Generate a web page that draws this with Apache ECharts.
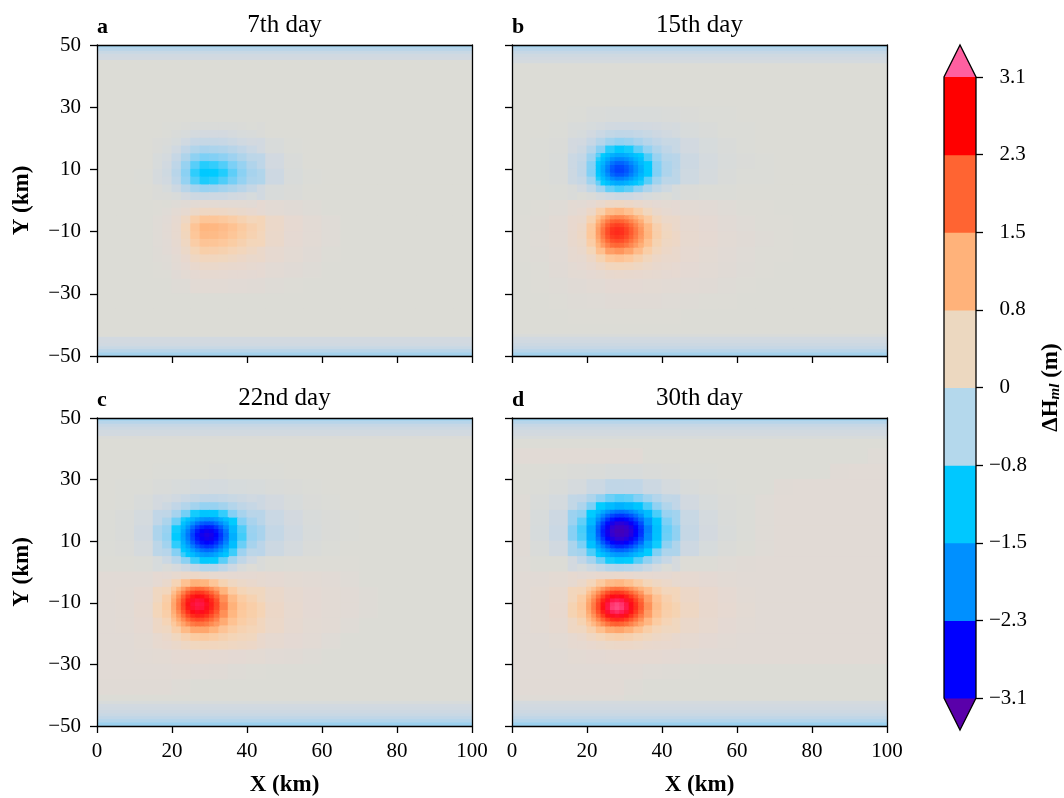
<!DOCTYPE html>
<html>
<head>
<meta charset="utf-8">
<script src="https://cdn.jsdelivr.net/npm/echarts@6/dist/echarts.min.js"></script>
<style>
html,body{margin:0;padding:0;background:#ffffff;}
#chart{width:1064px;height:798px;}
</style>
</head>
<body>
<div id="chart"></div>
<script>
// ---- grid coordinates of the sampled field (km) ----
const coarseX = [2.5,7.5,12.5,17.5,22.5,27.5,32.5,37.5,42.5,47.5,52.5,57.5,62.5,67.5,72.5,77.5,82.5,87.5,92.5,97.5];
const coarseY = [47.5,42.5,37.5,32.5,27.5,22.5,17.5,12.5,7.5,2.5,-2.5,-7.5,-12.5,-17.5,-22.5,-27.5,-32.5,-37.5,-42.5,-47.5];
const fineX = [18.75,21.25,23.75,26.25,28.75,31.25,33.75,36.25,38.75,41.25];
const fineY = [23.75,21.25,18.75,16.25,13.75,11.25,8.75,6.25,3.75,1.25,-1.25,-3.75,-6.25,-8.75,-11.25,-13.75,-16.25,-18.75,-21.25,-23.75];
const edgeTopY = [49.5,48.5,47.5,46.5,45.5,44.5,43.5,42.5];
const edgeBottomY = [-42.5,-43.5,-44.5,-45.5,-46.5,-47.5,-48.5,-49.5];
// eddy cores, sampled every 1.25 km
const coreXa = [23.125,24.375,25.625,26.875,28.125,29.375,30.625,31.875,33.125,34.375];
const coreXb = [20.625,21.875,23.125,24.375,25.625,26.875,28.125,29.375,30.625,31.875];
const coreXw = [20.625,21.875,23.125,24.375,25.625,26.875,28.125,29.375,30.625,31.875,33.125,34.375];
const coreYblue8 = [14.375,13.125,11.875,10.625,9.375,8.125,6.875,5.625];
const coreYred8 = [-5.625,-6.875,-8.125,-9.375,-10.625,-11.875,-13.125,-14.375];
const coreYblue10 = [16.875,15.625,14.375,13.125,11.875,10.625,9.375,8.125,6.875,5.625];
const coreYred10 = [-5.625,-6.875,-8.125,-9.375,-10.625,-11.875,-13.125,-14.375,-15.625,-16.875];
const coreYblue12 = [19.375,18.125,16.875,15.625,14.375,13.125,11.875,10.625,9.375,8.125,6.875,5.625];

const panelTitles = ['7th day','15th day','22nd day','30th day'];
const panelLetters = ['a','b','c','d'];

// ---- ΔHml (m), 7th day ----
const dayA_coarse = [
[-0.15,-0.15,-0.15,-0.15,-0.15,-0.15,-0.15,-0.15,-0.15,-0.15,-0.15,-0.15,-0.15,-0.15,-0.15,-0.15,-0.15,-0.15,-0.15,-0.15],
[0,0,0,0,0,0,0,0,0,0,0,0,0,0,0,0,0,0,0,0],
[0,0,0,0,0,0,0,0,0,0,0,0,0,0,0,0,0,0,0,0],
[0,0,0,0,0,0,0,0,0,0,0,0,0,0,0,0,0,0,0,0],
[0,0,0,0,0,0,0,0,0,0,0,0,0,0,0,0,0,0,0,0],
[0,0,0,0,-0.03,-0.06,-0.05,-0.03,-0.02,0,0,0,0,0,0,0,0,0,0,0],
[0,0,0,-0.02,-0.13,-0.29,-0.28,-0.2,-0.1,-0.04,-0.01,0,0,0,0,0,0,0,0,0],
[0,0,0,-0.05,-0.34,-0.77,-0.75,-0.52,-0.27,-0.1,-0.03,0,0,0,0,0,0,0,0,0],
[0,0,-0.01,-0.07,-0.44,-1,-0.98,-0.68,-0.36,-0.14,-0.04,-0.01,0,0,0,0,0,0,0,0],
[0,0,0,-0.02,-0.14,-0.31,-0.3,-0.2,-0.11,-0.04,-0.02,0,0,0,0,0,0,0,0,0],
[0,0,0,0.01,0.08,0.21,0.22,0.19,0.14,0.08,0.04,0.02,0,0,0,0,0,0,0,0],
[0,0,0,0.03,0.35,0.99,1,0.83,0.57,0.34,0.17,0.07,0.03,0,0,0,0,0,0,0],
[0,0,0,0.03,0.33,0.92,0.94,0.77,0.54,0.32,0.16,0.07,0.03,0,0,0,0,0,0,0],
[0,0,0,0.02,0.2,0.57,0.58,0.47,0.33,0.19,0.1,0.04,0.01,0,0,0,0,0,0,0],
[0,0,0,0.01,0.08,0.24,0.25,0.2,0.14,0.08,0.04,0.02,0,0,0,0,0,0,0,0],
[0,0,0,0,0.02,0.07,0.07,0.06,0.04,0.02,0.01,0,0,0,0,0,0,0,0,0],
[0,0,0,0,0,0,0,0,0,0,0,0,0,0,0,0,0,0,0,0],
[0,0,0,0,0,0,0,0,0,0,0,0,0,0,0,0,0,0,0,0],
[0,0,0,0,0,0,0,0,0,0,0,0,0,0,0,0,0,0,0,0],
[-0.15,-0.15,-0.15,-0.15,-0.15,-0.15,-0.15,-0.15,-0.15,-0.15,-0.15,-0.15,-0.15,-0.15,-0.15,-0.15,-0.15,-0.15,-0.15,-0.15]
];
const dayA_fine = [
[-0.01,-0.01,-0.02,-0.03,-0.03,-0.03,-0.03,-0.03,-0.02,-0.01],
[-0.01,-0.03,-0.05,-0.08,-0.09,-0.09,-0.09,-0.07,-0.05,-0.04],
[-0.03,-0.06,-0.12,-0.19,-0.21,-0.21,-0.19,-0.16,-0.12,-0.09],
[-0.05,-0.12,-0.24,-0.36,-0.42,-0.4,-0.37,-0.31,-0.24,-0.17],
[-0.08,-0.2,-0.38,-0.58,-0.67,-0.65,-0.59,-0.49,-0.38,-0.28],
[-0.11,-0.27,-0.53,-0.79,-0.92,-0.89,-0.81,-0.67,-0.53,-0.37],
[-0.13,-0.31,-0.6,-0.9,-1.05,-1.02,-0.93,-0.77,-0.6,-0.43],
[-0.11,-0.27,-0.54,-0.81,-0.94,-0.91,-0.82,-0.69,-0.54,-0.39],
[-0.06,-0.15,-0.3,-0.44,-0.52,-0.5,-0.45,-0.38,-0.3,-0.21],
[-0.02,-0.04,-0.09,-0.14,-0.15,-0.14,-0.14,-0.11,-0.09,-0.06],
[0,0.02,0.04,0.07,0.09,0.09,0.08,0.08,0.07,0.06],
[0.03,0.09,0.21,0.35,0.43,0.42,0.4,0.36,0.31,0.26],
[0.06,0.19,0.43,0.72,0.88,0.87,0.82,0.74,0.64,0.54],
[0.07,0.23,0.54,0.9,1.1,1.08,1.02,0.93,0.8,0.67],
[0.07,0.22,0.51,0.86,1.04,1.03,0.97,0.88,0.76,0.64],
[0.06,0.19,0.44,0.74,0.9,0.89,0.84,0.76,0.66,0.55],
[0.05,0.15,0.35,0.58,0.71,0.69,0.66,0.59,0.52,0.43],
[0.03,0.11,0.25,0.42,0.5,0.5,0.47,0.43,0.37,0.31],
[0.02,0.07,0.16,0.27,0.33,0.32,0.3,0.28,0.24,0.2],
[0.01,0.04,0.1,0.16,0.19,0.19,0.18,0.16,0.14,0.12]
];
const dayA_edgeTop = [-0.45,-0.3,-0.18,-0.12,-0.1,0,0,0];
const dayA_edgeBottom = [0,0,-0.1,-0.1,-0.12,-0.18,-0.3,-0.45];

// ---- ΔHml (m), 15th day ----
const dayB_coarse = [
[-0.15,-0.15,-0.15,-0.15,-0.15,-0.15,-0.15,-0.15,-0.15,-0.15,-0.15,-0.15,-0.15,-0.15,-0.15,-0.15,-0.15,-0.15,-0.15,-0.15],
[0,0,0,0,0,0,0,0,0,0,0,0,0,0,0,0,0,0,0,0],
[0,0,0,0,0,0,0,0,0,0,0,0,0,0,0,0,0,0,0,0],
[0,0,0,0,0,0,0,0,0,0,0,0,0,0,0,0,0,0,0,0],
[0,0,0,-0.01,-0.03,-0.04,-0.04,-0.04,-0.03,-0.02,-0.01,-0.01,0,0,0,0,0,0,0,0],
[0,0,-0.01,-0.04,-0.1,-0.17,-0.17,-0.12,-0.08,-0.05,-0.03,-0.01,-0.01,0,0,0,0,0,0,0],
[0,-0.01,-0.02,-0.09,-0.35,-0.75,-0.65,-0.36,-0.18,-0.1,-0.06,-0.03,-0.01,0,0,0,0,0,0,0],
[0,-0.01,-0.03,-0.16,-0.84,-1.94,-1.61,-0.75,-0.3,-0.15,-0.08,-0.04,-0.02,-0.01,0,0,0,0,0,0],
[0,-0.01,-0.03,-0.15,-0.86,-2.02,-1.67,-0.75,-0.28,-0.13,-0.07,-0.03,-0.01,-0.01,0,0,0,0,0,0],
[0,0,-0.01,-0.03,-0.19,-0.46,-0.38,-0.17,-0.05,-0.02,-0.01,-0.01,0,0,0,0,0,0,0,0],
[0,0.01,0.03,0.09,0.37,0.73,0.57,0.27,0.13,0.07,0.05,0.03,0.01,0.01,0,0,0,0,0,0],
[0.01,0.02,0.07,0.24,1.04,2.1,1.63,0.75,0.33,0.19,0.12,0.06,0.03,0.01,0.01,0,0,0,0,0],
[0.01,0.03,0.08,0.27,1.12,2.23,1.74,0.83,0.39,0.23,0.14,0.08,0.04,0.02,0.01,0,0,0,0,0],
[0.01,0.02,0.06,0.19,0.62,1.17,0.96,0.52,0.29,0.18,0.11,0.06,0.03,0.01,0.01,0,0,0,0,0],
[0,0.01,0.04,0.1,0.24,0.39,0.35,0.25,0.17,0.12,0.07,0.04,0.02,0.01,0,0,0,0,0,0],
[0,0.01,0.02,0.04,0.08,0.12,0.12,0.1,0.08,0.06,0.04,0.02,0.01,0,0,0,0,0,0,0],
[0,0,0.01,0.02,0.03,0.04,0.04,0.04,0.03,0.02,0.01,0.01,0,0,0,0,0,0,0,0],
[0,0,0,0.01,0.01,0.01,0.01,0.01,0.01,0,0,0,0,0,0,0,0,0,0,0],
[0,0,0,0,0,0,0,0,0,0,0,0,0,0,0,0,0,0,0,0],
[-0.15,-0.15,-0.15,-0.15,-0.15,-0.15,-0.15,-0.15,-0.15,-0.15,-0.15,-0.15,-0.15,-0.15,-0.15,-0.15,-0.15,-0.15,-0.15,-0.15]
];
const dayB_fine = [
[-0.04,-0.06,-0.08,-0.11,-0.12,-0.12,-0.11,-0.1,-0.09,-0.07],
[-0.06,-0.1,-0.17,-0.23,-0.26,-0.25,-0.22,-0.18,-0.14,-0.11],
[-0.1,-0.19,-0.33,-0.48,-0.55,-0.51,-0.42,-0.32,-0.24,-0.18],
[-0.15,-0.33,-0.62,-0.92,-1.05,-0.96,-0.77,-0.55,-0.37,-0.25],
[-0.22,-0.5,-0.98,-1.49,-1.69,-1.54,-1.19,-0.82,-0.52,-0.33],
[-0.26,-0.63,-1.27,-1.95,-2.21,-2,-1.54,-1.04,-0.64,-0.39],
[-0.27,-0.65,-1.31,-2.02,-2.29,-2.07,-1.59,-1.06,-0.65,-0.39],
[-0.2,-0.48,-0.98,-1.52,-1.72,-1.55,-1.19,-0.79,-0.48,-0.28],
[-0.09,-0.23,-0.48,-0.75,-0.85,-0.77,-0.59,-0.39,-0.23,-0.13],
[0,-0.02,-0.07,-0.12,-0.15,-0.14,-0.1,-0.06,-0.03,-0.01],
[0.08,0.16,0.29,0.4,0.42,0.37,0.29,0.2,0.13,0.09],
[0.17,0.38,0.7,1,1.07,0.94,0.71,0.48,0.31,0.21],
[0.29,0.64,1.17,1.67,1.79,1.58,1.19,0.8,0.51,0.34],
[0.38,0.82,1.52,2.17,2.32,2.04,1.54,1.04,0.67,0.44],
[0.4,0.85,1.55,2.21,2.37,2.09,1.59,1.08,0.7,0.47],
[0.36,0.74,1.33,1.88,2.01,1.78,1.37,0.95,0.63,0.43],
[0.29,0.56,0.97,1.36,1.46,1.3,1.02,0.73,0.51,0.37],
[0.21,0.38,0.63,0.86,0.92,0.84,0.68,0.51,0.38,0.29],
[0.15,0.24,0.37,0.49,0.53,0.5,0.42,0.34,0.27,0.22],
[0.1,0.15,0.21,0.27,0.29,0.28,0.25,0.22,0.19,0.16]
];
const dayB_blueCore = [
[-0.77,-1.01,-1.24,-1.43,-1.52,-1.51,-1.45,-1.33,-1.17,-1],
[-0.92,-1.22,-1.5,-1.72,-1.84,-1.83,-1.74,-1.59,-1.4,-1.19],
[-1.05,-1.39,-1.72,-1.97,-2.1,-2.09,-1.99,-1.82,-1.59,-1.35],
[-1.13,-1.5,-1.86,-2.14,-2.28,-2.26,-2.15,-1.96,-1.72,-1.45],
[-1.15,-1.53,-1.9,-2.18,-2.32,-2.31,-2.2,-2,-1.75,-1.48],
[-1.08,-1.45,-1.79,-2.06,-2.19,-2.18,-2.08,-1.89,-1.65,-1.39],
[-0.94,-1.25,-1.55,-1.79,-1.9,-1.89,-1.8,-1.63,-1.43,-1.2],
[-0.74,-0.99,-1.23,-1.42,-1.51,-1.5,-1.43,-1.3,-1.13,-0.95]
];
const dayB_redCore = [
[0.93,1.19,1.42,1.58,1.63,1.59,1.49,1.34,1.17,0.98],
[1.12,1.44,1.72,1.91,1.97,1.92,1.8,1.62,1.41,1.19],
[1.28,1.63,1.95,2.17,2.24,2.19,2.05,1.85,1.61,1.35],
[1.37,1.75,2.09,2.32,2.4,2.35,2.2,1.98,1.72,1.45],
[1.38,1.77,2.11,2.34,2.42,2.37,2.22,2,1.74,1.47],
[1.33,1.7,2.03,2.25,2.32,2.27,2.13,1.93,1.68,1.42],
[1.23,1.57,1.87,2.07,2.14,2.1,1.97,1.78,1.56,1.32],
[1.1,1.39,1.65,1.83,1.89,1.85,1.74,1.58,1.39,1.18]
];
const dayB_edgeTop = [-0.45,-0.3,-0.2,-0.13,-0.1,-0.08,0,0];
const dayB_edgeBottom = [0,-0.03,-0.1,-0.12,-0.15,-0.2,-0.3,-0.45];

// ---- ΔHml (m), 22nd day ----
const dayC_coarse = [
[-0.2,-0.2,-0.2,-0.2,-0.2,-0.2,-0.2,-0.2,-0.2,-0.2,-0.2,-0.2,-0.2,-0.2,-0.2,-0.2,-0.2,-0.2,-0.2,-0.2],
[0,0,0,0,0,0,0,0,0,0,0,0,0,0,0,0,0,0,0,0],
[0,0,0,0,0,0,0,0,0,0,0,0,0,0,0,0,0,0,0,0],
[0,0,0,-0.01,-0.01,-0.01,-0.02,-0.01,-0.01,-0.01,0,0,0,0,0,0,0,0,0,0],
[0,-0.01,-0.01,-0.03,-0.05,-0.07,-0.08,-0.06,-0.05,-0.03,-0.02,-0.01,0,0,0,0,0,0,0,0],
[0,-0.01,-0.04,-0.09,-0.2,-0.34,-0.34,-0.23,-0.14,-0.09,-0.05,-0.02,-0.01,0,0,0,0,0,0,0],
[-0.01,-0.03,-0.08,-0.24,-0.75,-1.43,-1.35,-0.67,-0.3,-0.17,-0.09,-0.04,-0.02,-0.01,0,0,0,0,0,0],
[-0.01,-0.03,-0.11,-0.39,-1.37,-2.76,-2.55,-1.12,-0.42,-0.22,-0.12,-0.05,-0.02,-0.01,0,0,0,0,0,0],
[-0.01,-0.02,-0.07,-0.28,-1.03,-2.1,-1.94,-0.82,-0.29,-0.15,-0.08,-0.03,-0.01,0,0,0,0,0,0,0],
[0,0,-0.01,-0.06,-0.28,-0.65,-0.61,-0.22,-0.03,0,0.01,0.01,0.01,0.01,0,0,0,0,0,0],
[0.06,0.06,0.06,0.16,0.51,0.73,0.47,0.27,0.2,0.14,0.1,0.07,0.06,0.03,0,0,0,0,0,0],
[0.06,0.07,0.15,0.45,1.61,2.51,1.63,0.78,0.48,0.32,0.2,0.12,0.08,0.06,0.02,0,0,0,0,0],
[0.06,0.08,0.19,0.55,1.87,2.9,1.93,0.97,0.6,0.38,0.22,0.12,0.08,0.05,0.02,0,0,0,0,0],
[0.06,0.07,0.16,0.4,1.08,1.62,1.21,0.76,0.5,0.34,0.2,0.11,0.07,0.03,0,0,0,0,0,0],
[0.06,0.06,0.11,0.23,0.45,0.63,0.58,0.45,0.3,0.2,0.12,0.07,0.03,0,0,0,0,0,0,0],
[0.06,0.06,0.07,0.1,0.14,0.17,0.16,0.13,0.09,0.06,0.04,0.02,0,0,0,0,0,0,0,0],
[0.06,0.06,0.06,0.06,0.07,0.06,0.04,0.02,0.01,0,0,0,0,0,0,0,0,0,0,0],
[0.04,0.04,0.04,0.04,0.02,0,0,0,0,0,0,0,0,0,0,0,0,0,0,0],
[0,0,0,0,0,0,0,0,0,0,0,0,0,0,0,0,0,0,0,0],
[-0.2,-0.2,-0.2,-0.2,-0.2,-0.2,-0.2,-0.2,-0.2,-0.2,-0.2,-0.2,-0.2,-0.2,-0.2,-0.2,-0.2,-0.2,-0.2,-0.2]
];
const dayC_fine = [
[-0.08,-0.12,-0.17,-0.21,-0.24,-0.24,-0.22,-0.18,-0.15,-0.12],
[-0.15,-0.24,-0.35,-0.46,-0.54,-0.53,-0.46,-0.35,-0.26,-0.2],
[-0.26,-0.44,-0.7,-0.96,-1.12,-1.09,-0.89,-0.64,-0.43,-0.3],
[-0.4,-0.72,-1.19,-1.67,-1.96,-1.9,-1.51,-1.02,-0.64,-0.42],
[-0.52,-0.97,-1.63,-2.32,-2.73,-2.63,-2.06,-1.36,-0.82,-0.5],
[-0.55,-1.04,-1.75,-2.49,-2.94,-2.83,-2.21,-1.45,-0.86,-0.52],
[-0.47,-0.9,-1.52,-2.17,-2.56,-2.47,-1.92,-1.25,-0.73,-0.43],
[-0.32,-0.63,-1.09,-1.56,-1.85,-1.77,-1.37,-0.87,-0.49,-0.28],
[-0.16,-0.34,-0.6,-0.88,-1.06,-1.02,-0.78,-0.48,-0.25,-0.12],
[-0.02,-0.07,-0.15,-0.26,-0.36,-0.36,-0.27,-0.14,-0.04,0.01],
[0.13,0.22,0.32,0.37,0.31,0.23,0.17,0.15,0.15,0.15],
[0.31,0.59,0.93,1.15,1.1,0.88,0.63,0.45,0.35,0.3],
[0.52,1.02,1.65,2.06,1.99,1.59,1.12,0.77,0.58,0.48],
[0.72,1.39,2.24,2.81,2.72,2.18,1.52,1.04,0.77,0.64],
[0.78,1.5,2.4,3.01,2.91,2.35,1.66,1.15,0.86,0.72],
[0.72,1.33,2.11,2.63,2.56,2.09,1.51,1.08,0.83,0.71],
[0.59,1.03,1.57,1.95,1.92,1.61,1.22,0.93,0.75,0.65],
[0.45,0.72,1.04,1.27,1.28,1.12,0.91,0.75,0.64,0.57],
[0.33,0.48,0.65,0.78,0.8,0.75,0.66,0.58,0.52,0.48],
[0.24,0.32,0.41,0.48,0.51,0.5,0.47,0.44,0.41,0.37]
];
const dayC_blueCore = [
[-0.95,-1.17,-1.38,-1.57,-1.7,-1.76,-1.73,-1.62,-1.45,-1.24],
[-1.18,-1.46,-1.73,-1.97,-2.13,-2.2,-2.17,-2.02,-1.8,-1.53],
[-1.38,-1.71,-2.04,-2.32,-2.51,-2.6,-2.56,-2.38,-2.11,-1.79],
[-1.51,-1.89,-2.25,-2.56,-2.78,-2.88,-2.83,-2.63,-2.33,-1.96],
[-1.57,-1.95,-2.33,-2.66,-2.89,-2.99,-2.93,-2.73,-2.41,-2.03],
[-1.53,-1.91,-2.28,-2.6,-2.82,-2.92,-2.87,-2.67,-2.36,-1.98],
[-1.43,-1.78,-2.13,-2.43,-2.64,-2.73,-2.68,-2.49,-2.2,-1.85],
[-1.27,-1.58,-1.9,-2.16,-2.35,-2.43,-2.39,-2.22,-1.95,-1.64],
[-1.08,-1.35,-1.61,-1.84,-2,-2.07,-2.03,-1.89,-1.66,-1.39],
[-0.87,-1.09,-1.31,-1.5,-1.63,-1.69,-1.65,-1.53,-1.35,-1.12]
];
const dayC_redCore = [
[0.77,1.04,1.33,1.6,1.79,1.87,1.83,1.72,1.54,1.32],
[0.97,1.3,1.66,1.99,2.22,2.32,2.28,2.13,1.91,1.64],
[1.13,1.51,1.93,2.31,2.58,2.69,2.65,2.48,2.21,1.9],
[1.24,1.66,2.11,2.53,2.83,2.95,2.9,2.71,2.43,2.09],
[1.29,1.72,2.19,2.62,2.93,3.06,3.01,2.81,2.52,2.17],
[1.27,1.7,2.15,2.57,2.87,2.99,2.95,2.76,2.48,2.14],
[1.2,1.59,2.01,2.4,2.68,2.8,2.76,2.59,2.33,2.02],
[1.1,1.44,1.81,2.15,2.4,2.5,2.47,2.33,2.11,1.84],
[0.97,1.26,1.57,1.85,2.06,2.15,2.13,2.02,1.84,1.63],
[0.83,1.06,1.31,1.54,1.71,1.79,1.78,1.7,1.56,1.4]
];
const dayC_edgeTop = [-0.5,-0.32,-0.2,-0.14,-0.11,-0.1,-0.02,0];
const dayC_edgeBottom = [-0.05,-0.1,-0.12,-0.14,-0.18,-0.25,-0.35,-0.5];

// ---- ΔHml (m), 30th day ----
const dayD_coarse = [
[-0.2,-0.2,-0.2,-0.2,-0.2,-0.2,-0.2,-0.2,-0.2,-0.2,-0.2,-0.2,-0.2,-0.2,-0.2,-0.2,-0.2,-0.2,-0.2,-0.2],
[0,0,0,0,0,0,0,0,0,0,0,0,0,0,0,0,0,0,0,0],
[0.05,0.05,0.05,0.05,0.05,0.05,0.05,0,0,0,0,0,0,0,0,0,0,0,0,0.03],
[0,0,-0.01,-0.02,-0.03,-0.05,-0.05,-0.03,-0.02,-0.01,-0.01,0,0,0,0,0,0,0.04,0.05,0.05],
[0,-0.01,-0.03,-0.07,-0.16,-0.25,-0.24,-0.15,-0.08,-0.04,-0.02,-0.01,0,0,0.04,0.05,0.05,0.05,0.05,0.05],
[0.02,-0.03,-0.08,-0.23,-0.64,-1.05,-0.95,-0.54,-0.24,-0.1,-0.05,-0.02,-0.01,0.03,0.05,0.05,0.05,0.05,0.05,0.05],
[0.04,-0.05,-0.14,-0.5,-1.5,-2.55,-2.27,-1.21,-0.47,-0.18,-0.08,-0.03,-0.01,0.03,0.05,0.05,0.05,0.05,0.05,0.05],
[0.04,-0.06,-0.17,-0.62,-1.92,-3.29,-2.93,-1.54,-0.57,-0.21,-0.09,-0.04,-0.01,0.03,0.05,0.05,0.05,0.05,0.05,0.05],
[0.04,-0.03,-0.11,-0.41,-1.3,-2.24,-1.99,-1.04,-0.38,-0.14,-0.06,-0.02,0,0.03,0.05,0.05,0.05,0.05,0.05,0.05],
[0.03,0,0,-0.09,-0.38,-0.68,-0.6,-0.29,-0.07,0.01,0.01,0.03,0.04,0.05,0.06,0.06,0.06,0.06,0.06,0.06],
[0.06,0.06,0.1,0.2,0.43,0.67,0.54,0.33,0.23,0.17,0.12,0.08,0.06,0.06,0.06,0.06,0.06,0.06,0.06,0.06],
[0.06,0.1,0.22,0.52,1.49,2.54,1.97,0.98,0.54,0.37,0.24,0.14,0.08,0.06,0.06,0.06,0.06,0.06,0.06,0.06],
[0.06,0.11,0.25,0.63,1.91,3.3,2.53,1.2,0.63,0.42,0.28,0.17,0.09,0.06,0.06,0.06,0.06,0.06,0.06,0.06],
[0.06,0.09,0.19,0.42,1.06,1.71,1.38,0.77,0.48,0.33,0.22,0.13,0.07,0.06,0.06,0.06,0.06,0.06,0.06,0.06],
[0.06,0.06,0.11,0.21,0.37,0.5,0.46,0.36,0.27,0.19,0.13,0.08,0.06,0.06,0.06,0.06,0.06,0.06,0.06,0.06],
[0.06,0.06,0.06,0.09,0.13,0.16,0.16,0.14,0.12,0.08,0.06,0.06,0.06,0.06,0.06,0.06,0.06,0.06,0.06,0.06],
[0.06,0.06,0.06,0.06,0.06,0.06,0.05,0.03,0.02,0.01,0,0,0,0,0,0,0,0,0,0],
[0.05,0.05,0.05,0.05,0.05,0.05,0.02,0,0,0,0,0,0,0,0,0,0,0,0,0],
[0.03,0.03,0.03,0.03,0.03,0.03,0,0,0,0,0,0,0,0,0,0,0,0,0,0],
[-0.2,-0.2,-0.2,-0.2,-0.2,-0.2,-0.2,-0.2,-0.2,-0.2,-0.2,-0.2,-0.2,-0.2,-0.2,-0.2,-0.2,-0.2,-0.2,-0.2]
];
const dayD_fine = [
[-0.24,-0.38,-0.57,-0.72,-0.79,-0.76,-0.64,-0.48,-0.34,-0.23],
[-0.39,-0.67,-1,-1.3,-1.43,-1.35,-1.12,-0.84,-0.57,-0.36],
[-0.58,-1.01,-1.55,-2.01,-2.22,-2.09,-1.73,-1.27,-0.84,-0.52],
[-0.76,-1.33,-2.05,-2.69,-2.96,-2.79,-2.29,-1.67,-1.09,-0.67],
[-0.85,-1.51,-2.33,-3.05,-3.37,-3.17,-2.6,-1.88,-1.23,-0.74],
[-0.82,-1.46,-2.26,-2.96,-3.26,-3.07,-2.52,-1.82,-1.19,-0.72],
[-0.68,-1.2,-1.86,-2.44,-2.69,-2.53,-2.07,-1.5,-0.97,-0.58],
[-0.46,-0.83,-1.29,-1.7,-1.87,-1.76,-1.44,-1.03,-0.66,-0.39],
[-0.24,-0.45,-0.72,-0.96,-1.07,-1,-0.81,-0.57,-0.35,-0.19],
[-0.05,-0.13,-0.23,-0.33,-0.37,-0.35,-0.28,-0.18,-0.08,-0.01],
[0.13,0.18,0.24,0.28,0.29,0.25,0.21,0.18,0.16,0.15],
[0.34,0.54,0.8,1.02,1.07,0.95,0.75,0.55,0.42,0.34],
[0.57,0.96,1.49,1.94,2.04,1.79,1.37,0.97,0.69,0.52],
[0.77,1.34,2.13,2.8,2.95,2.57,1.94,1.34,0.92,0.67],
[0.85,1.51,2.41,3.19,3.36,2.93,2.19,1.49,1,0.73],
[0.79,1.38,2.19,2.89,3.04,2.65,2,1.37,0.94,0.69],
[0.63,1.04,1.6,2.07,2.18,1.93,1.49,1.07,0.77,0.59],
[0.45,0.68,0.98,1.23,1.3,1.17,0.95,0.73,0.57,0.46],
[0.3,0.42,0.55,0.66,0.7,0.65,0.57,0.48,0.4,0.34],
[0.2,0.25,0.31,0.36,0.38,0.37,0.34,0.3,0.27,0.24]
];
const dayD_blueCore = [
[-1.28,-1.52,-1.74,-1.9,-2,-2.01,-1.95,-1.84,-1.67,-1.47],
[-1.53,-1.83,-2.09,-2.29,-2.4,-2.41,-2.34,-2.2,-2,-1.76],
[-1.77,-2.1,-2.41,-2.64,-2.77,-2.79,-2.7,-2.54,-2.3,-2.02],
[-1.96,-2.34,-2.67,-2.93,-3.08,-3.1,-3,-2.82,-2.55,-2.24],
[-2.09,-2.49,-2.85,-3.13,-3.28,-3.3,-3.2,-3,-2.72,-2.38],
[-2.14,-2.55,-2.92,-3.21,-3.37,-3.38,-3.28,-3.08,-2.79,-2.44],
[-2.1,-2.51,-2.88,-3.16,-3.31,-3.33,-3.23,-3.03,-2.74,-2.4],
[-1.99,-2.37,-2.72,-2.98,-3.13,-3.15,-3.05,-2.86,-2.59,-2.27],
[-1.8,-2.16,-2.47,-2.71,-2.84,-2.86,-2.77,-2.6,-2.35,-2.06],
[-1.58,-1.88,-2.16,-2.37,-2.49,-2.5,-2.42,-2.27,-2.05,-1.8],
[-1.32,-1.58,-1.81,-1.99,-2.09,-2.1,-2.03,-1.9,-1.72,-1.51],
[-1.04,-1.25,-1.44,-1.58,-1.66,-1.67,-1.62,-1.51,-1.37,-1.19]
];
const dayD_redCore = [
[0.74,0.95,1.19,1.42,1.63,1.76,1.81,1.77,1.66,1.5,1.31,1.12],
[0.94,1.21,1.52,1.83,2.09,2.26,2.32,2.26,2.12,1.91,1.67,1.42],
[1.1,1.43,1.8,2.17,2.5,2.71,2.77,2.71,2.53,2.27,1.98,1.67],
[1.23,1.6,2.03,2.45,2.82,3.06,3.13,3.05,2.85,2.56,2.22,1.87],
[1.3,1.7,2.16,2.61,3.01,3.27,3.35,3.26,3.04,2.73,2.36,1.98],
[1.31,1.72,2.17,2.64,3.03,3.3,3.38,3.29,3.07,2.75,2.38,2],
[1.25,1.64,2.07,2.51,2.88,3.13,3.21,3.13,2.92,2.62,2.27,1.91],
[1.14,1.48,1.87,2.25,2.59,2.8,2.87,2.8,2.62,2.36,2.05,1.73],
[1,1.28,1.6,1.92,2.19,2.37,2.43,2.38,2.23,2.01,1.76,1.5],
[0.84,1.06,1.31,1.55,1.77,1.91,1.96,1.91,1.8,1.64,1.45,1.25]
];
const dayD_edgeTop = [-0.5,-0.32,-0.2,-0.14,-0.11,-0.09,-0.05,0];
const dayD_edgeBottom = [-0.08,-0.1,-0.12,-0.14,-0.18,-0.25,-0.35,-0.5];

// ---- colour bar ----
const cbTickValues = [-3.1,-2.3,-1.5,-0.8,0,0.8,1.5,2.3,3.1];
const cbBinColors = ['#0000ff','#0090ff','#00c8ff','#b4d8ec','#ecd8c0','#ffb27a','#ff6432','#ff0000'];
const cbUnderColor = '#5a00aa';
const cbOverColor = '#ff60a0';

// ---- drawing ----
const FONT = "'Liberation Serif', 'Times New Roman', serif";
const fmtNum = v => (v < 0 ? '\u2212' : '') + Math.abs(v);
// colour-bar labels keep the digits in one column: a figure space stands in for the minus sign
const fmtBar = v => (v < 0 ? '\u2212' : '\u2007') + Math.abs(v);

// continuous palette for the field (value -> rgb)
const fieldStops = [
  [-3.6,[80,0,160]],[-3.2,[55,0,205]],[-2.75,[0,0,255]],[-2.2,[0,85,255]],[-1.8,[0,140,255]],
  [-1.35,[0,185,255]],[-1.0,[0,204,255]],[-0.85,[70,205,250]],[-0.65,[130,208,245]],[-0.45,[165,211,238]],
  [-0.25,[192,214,231]],[-0.1,[210,217,224]],[0,[220,220,214]],[0.05,[225,218,213]],[0.15,[229,217,210]],
  [0.3,[233,216,204]],[0.55,[243,214,186]],[0.85,[253,200,155]],[1.15,[255,178,122]],[1.5,[255,145,88]],
  [1.9,[255,102,52]],[2.3,[255,55,30]],[2.7,[255,10,20]],[3.1,[255,25,80]],[3.6,[255,110,170]]
];
function fieldColor(v) {
  if (v <= fieldStops[0][0]) return fieldStops[0][1];
  for (let i = 1; i < fieldStops.length; i++) {
    const [v1, c1] = fieldStops[i];
    if (v <= v1) {
      const [v0, c0] = fieldStops[i - 1];
      const t = (v - v0) / (v1 - v0);
      return c0.map((c, k) => Math.round(c + (c1[k] - c) * t));
    }
  }
  return fieldStops[fieldStops.length - 1][1];
}
const VMIN = -3.6, VMAX = 3.6, NCOL = 288;
const palette = [];
for (let i = 0; i <= NCOL; i++) {
  const c = fieldColor(VMIN + (VMAX - VMIN) * i / NCOL);
  palette.push('rgb(' + c.join(',') + ')');
}

const panels = [
  {coarse: dayA_coarse, fine: dayA_fine, cores: [], top: dayA_edgeTop, bottom: dayA_edgeBottom},
  {coarse: dayB_coarse, fine: dayB_fine, top: dayB_edgeTop, bottom: dayB_edgeBottom,
    cores: [[coreXa, coreYblue8, dayB_blueCore], [coreXa, coreYred8, dayB_redCore]]},
  {coarse: dayC_coarse, fine: dayC_fine, top: dayC_edgeTop, bottom: dayC_edgeBottom,
    cores: [[coreXa, coreYblue10, dayC_blueCore], [coreXb, coreYred10, dayC_redCore]]},
  {coarse: dayD_coarse, fine: dayD_fine, top: dayD_edgeTop, bottom: dayD_edgeBottom,
    cores: [[coreXa, coreYblue12, dayD_blueCore], [coreXw, coreYred10, dayD_redCore]]}
];
const gridBoxes = [
  {left: 97, top: 45, width: 375, height: 311},
  {left: 512, top: 45, width: 375, height: 311},
  {left: 97, top: 418, width: 375, height: 312},
  {left: 512, top: 418, width: 375, height: 312}
];

function cellSeries(axisIdx, xs, ys, rows, cw, ch) {
  const data = [];
  rows.forEach((row, j) => row.forEach((v, i) => data.push([xs[i], ys[j], v])));
  return {
    type: 'custom', xAxisIndex: axisIdx, yAxisIndex: axisIdx, z: 1, clip: true, silent: true,
    data: data, encode: {x: 0, y: 1},
    renderItem: function (params, api) {
      const x = api.value(0), y = api.value(1);
      const p0 = api.coord([x - cw / 2, y + ch / 2]);
      const p1 = api.coord([x + cw / 2, y - ch / 2]);
      return {
        type: 'rect',
        shape: {x: p0[0] - 0.5, y: p0[1] - 0.5, width: p1[0] - p0[0] + 1, height: p1[1] - p0[1] + 1},
        style: {fill: api.visual('color')}
      };
    }
  };
}

const series = [];
panels.forEach((p, k) => {
  series.push(cellSeries(k, coarseX, coarseY, p.coarse, 5, 5));
  series.push(cellSeries(k, fineX, fineY, p.fine, 2.5, 2.5));
  p.cores.forEach(c => series.push(cellSeries(k, c[0], c[1], c[2], 1.25, 1.25)));
  series.push(cellSeries(k, [50], edgeTopY, p.top.map(v => [v]), 100, 1));
  series.push(cellSeries(k, [50], edgeBottomY, p.bottom.map(v => [v]), 100, 1));
});
const cellSeriesCount = series.length;

const labelStyle = {color: '#000', fontSize: 21, fontFamily: FONT};
const nameStyle = {color: '#000', fontSize: 23, fontWeight: 'bold', fontFamily: FONT};
const lineStyle = {color: '#000', width: 1.3};
const xAxes = [], yAxes = [];
gridBoxes.forEach((g, k) => {
  const bottomRow = k >= 2, leftCol = k % 2 === 0;
  xAxes.push({
    gridIndex: k, type: 'value', min: 0, max: 100, interval: 20, position: 'bottom', z: 5,
    axisLine: {show: true, onZero: false, lineStyle: lineStyle},
    axisTick: {show: true, length: 7, lineStyle: lineStyle},
    axisLabel: Object.assign({show: bottomRow, margin: 15, formatter: fmtNum}, labelStyle),
    splitLine: {show: false},
    name: bottomRow ? 'X (km)' : '', nameLocation: 'middle', nameGap: 48,
    nameTextStyle: nameStyle
  });
  yAxes.push({
    gridIndex: k, type: 'value', min: -50, max: 50, interval: 20, position: 'left', z: 5,
    axisLine: {show: true, onZero: false, lineStyle: lineStyle},
    axisTick: {show: true, length: 7, lineStyle: lineStyle},
    axisLabel: Object.assign({show: leftCol, margin: 16, formatter: fmtNum}, labelStyle),
    splitLine: {show: false},
    name: leftCol ? 'Y (km)' : '', nameLocation: 'middle', nameGap: 63, nameRotate: 90,
    nameTextStyle: nameStyle
  });
});
gridBoxes.forEach((g, k) => {
  xAxes.push({gridIndex: k, type: 'value', min: 0, max: 100, position: 'top', z: 5,
    axisLine: {show: true, onZero: false, lineStyle: lineStyle}, axisTick: {show: false},
    axisLabel: {show: false}, splitLine: {show: false}});
  yAxes.push({gridIndex: k, type: 'value', min: -50, max: 50, position: 'right', z: 5,
    axisLine: {show: true, onZero: false, lineStyle: lineStyle}, axisTick: {show: false},
    axisLabel: {show: false}, splitLine: {show: false}});
});

// colour bar axes (bin edges evenly spaced)
const cbIndex = xAxes.length;
xAxes.push({gridIndex: 4, type: 'value', min: 0, max: 1, show: false});
yAxes.push({
  gridIndex: 4, type: 'value', min: 0, max: cbTickValues.length - 1, interval: 1, position: 'right', z: 5,
  axisLine: {show: false, onZero: false},
  axisTick: {show: true, length: 7, lineStyle: lineStyle},
  axisLabel: Object.assign({margin: 13, formatter: v => fmtBar(cbTickValues[Math.round(v)])}, labelStyle),
  splitLine: {show: false},
  name: '{d|\u0394H}{s|ml}{d| (m)}', nameLocation: 'middle', nameRotate: 90, nameGap: 64,
  nameTextStyle: {
    rich: {
      d: {color: '#000', fontSize: 23, fontWeight: 'bold', fontFamily: FONT},
      s: {color: '#000', fontSize: 15, fontWeight: 'bold', fontStyle: 'italic', fontFamily: FONT, padding: [8, 0, 0, 0]}
    }
  }
});

const TRI = 32; // px height of the end arrows
const cbItems = [[0.5, -1]].concat(cbBinColors.map((c, i) => [0.5, i]), [[0.5, cbBinColors.length]]);
series.push({
  type: 'custom', xAxisIndex: cbIndex, yAxisIndex: cbIndex, z: 3, silent: true,
  data: cbItems, encode: {x: 0, y: 1},
  renderItem: function (params, api) {
    const i = api.value(1);
    const n = cbBinColors.length;
    if (i < 0) {
      const a = api.coord([0, 0]), b = api.coord([1, 0]);
      return {type: 'polygon', shape: {points: [a, b, [(a[0] + b[0]) / 2, a[1] + TRI]]}, style: {fill: cbUnderColor}};
    }
    if (i >= n) {
      const a = api.coord([0, n]), b = api.coord([1, n]);
      return {type: 'polygon', shape: {points: [a, b, [(a[0] + b[0]) / 2, a[1] - TRI]]}, style: {fill: cbOverColor}};
    }
    const p0 = api.coord([0, i + 1]), p1 = api.coord([1, i]);
    return {type: 'rect', shape: {x: p0[0], y: p0[1] - 0.5, width: p1[0] - p0[0], height: p1[1] - p0[1] + 1},
      style: {fill: cbBinColors[i]}};
  }
});
series.push({
  type: 'custom', xAxisIndex: cbIndex, yAxisIndex: cbIndex, z: 4, silent: true,
  data: [[0.5, 0]], encode: {x: 0, y: 1},
  renderItem: function (params, api) {
    const n = cbBinColors.length;
    const bl = api.coord([0, 0]), br = api.coord([1, 0]);
    const tl = api.coord([0, n]), tr = api.coord([1, n]);
    const mx = (bl[0] + br[0]) / 2;
    return {type: 'polygon', shape: {points: [[mx, bl[1] + TRI], br, tr, [mx, tl[1] - TRI], tl, bl]},
      style: {fill: 'none', stroke: '#000', lineWidth: 1.3}};
  }
});

// panel headings
const graphics = [];
gridBoxes.forEach((g, k) => {
  const base = g.top - 7;
  graphics.push({type: 'text', x: g.left, y: base, silent: true,
    style: {text: panelLetters[k], fill: '#000', font: 'bold 22px ' + FONT, textAlign: 'left', textVerticalAlign: 'bottom'}});
  graphics.push({type: 'text', x: g.left + g.width / 2, y: base, silent: true,
    style: {text: panelTitles[k], fill: '#000', font: '25px ' + FONT, textAlign: 'center', textVerticalAlign: 'bottom'}});
});

const chart = echarts.init(document.getElementById('chart'), null, {renderer: 'canvas'});
chart.setOption({
  animation: false,
  backgroundColor: '#ffffff',
  grid: gridBoxes.concat([{left: 944, top: 77, width: 34, height: 621}]),
  xAxis: xAxes,
  yAxis: yAxes,
  visualMap: {
    type: 'continuous', show: false, min: VMIN, max: VMAX, dimension: 2,
    seriesIndex: Array.from({length: cellSeriesCount}, (_, i) => i),
    inRange: {color: palette}
  },
  graphic: graphics,
  series: series
});
</script>
</body>
</html>
